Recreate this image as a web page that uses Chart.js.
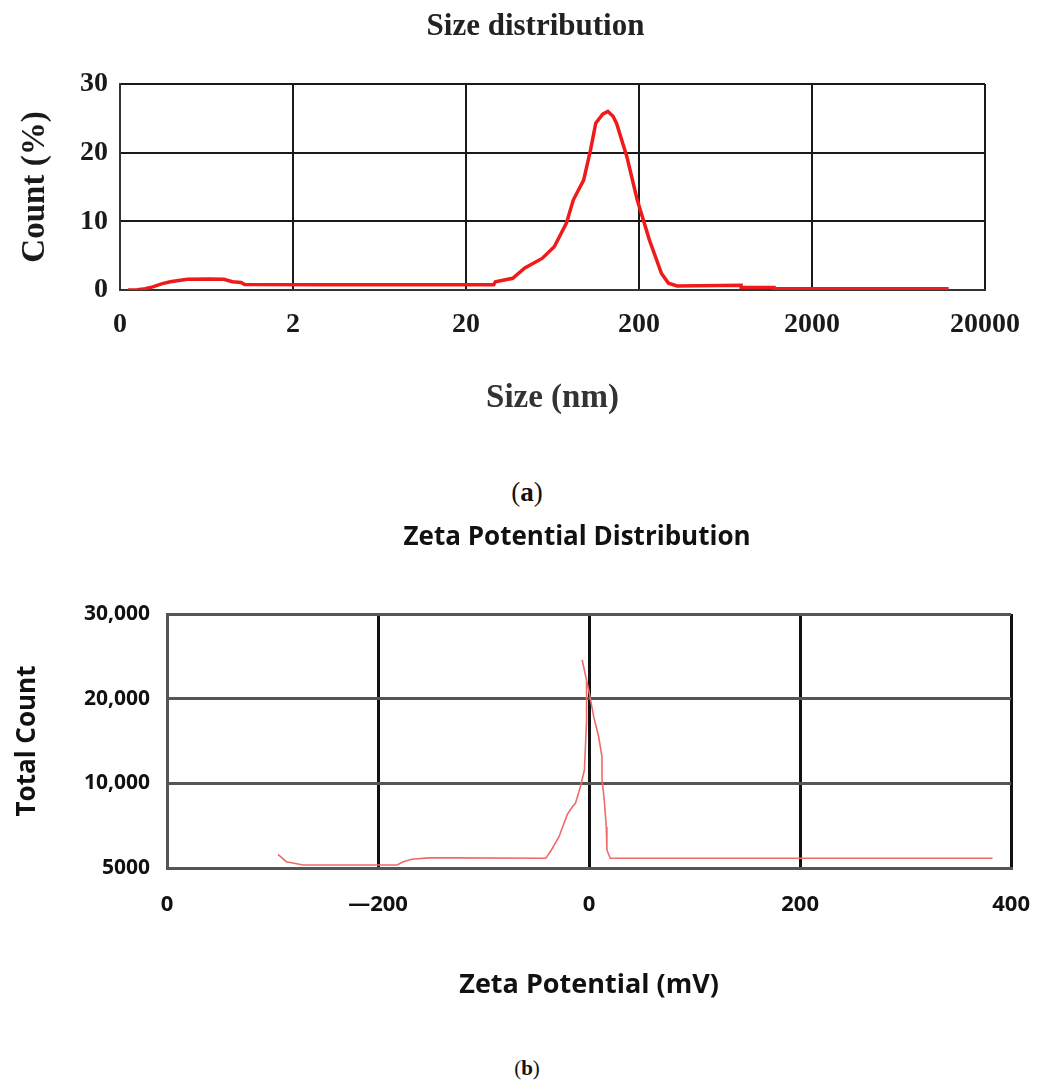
<!DOCTYPE html>
<html>
<head>
<meta charset="utf-8">
<script src="https://cdn.jsdelivr.net/npm/chart.js@4.4.1/dist/chart.umd.min.js"></script>
<style>
  html, body { margin: 0; padding: 0; background: #fff; }
  body { width: 1054px; height: 1084px; position: relative; overflow: hidden; }
  .box { position: absolute; left: 0; width: 1054px; }
  #boxA { top: 0; height: 440px; }
  #boxB { top: 500px; height: 520px; }
  .cap { position: absolute; left: 0; width: 1054px; text-align: center; font-family: "Liberation Serif", serif; color: #111; }
  #capA { top: 477px; font-size: 27px; }
  #capB { top: 1056px; font-size: 21px; }
</style>
</head>
<body>
<div class="box" id="boxA"><canvas id="chartA" width="1054" height="440"></canvas></div>
<div class="cap" id="capA">(<b>a</b>)</div>
<div class="box" id="boxB"><canvas id="chartB" width="1054" height="520"></canvas></div>
<div class="cap" id="capB">(<b>b</b>)</div>
<script>
// ---- Panel (a): size distribution ----
const sizeTickLabels = ['0', '2', '20', '200', '2000', '20000'];
// position along the evenly spaced (log-decade) size axis, 0 = first tick label
const sizeDecade = [0.046, 0.10, 0.145, 0.19, 0.24, 0.29, 0.39, 0.52, 0.60, 0.65, 0.70, 0.72,
  1.2, 2.0, 2.16, 2.17, 2.27, 2.34, 2.44, 2.51, 2.58, 2.62, 2.68, 2.72, 2.75, 2.79, 2.82, 2.85,
  2.87, 2.93, 2.99, 3.06, 3.13, 3.17, 3.22, 3.59, 3.59, 3.78, 3.78, 4.79];
const sizeCount = [0, 0.05, 0.2, 0.45, 0.9, 1.2, 1.55, 1.6, 1.55, 1.2, 1.1, 0.8,
  0.75, 0.75, 0.75, 1.2, 1.7, 3.2, 4.6, 6.3, 9.7, 13.1, 16.0, 20.4, 24.3, 25.6, 26.0, 25.3,
  24.3, 19.4, 13.1, 7.3, 2.4, 1.0, 0.6, 0.7, 0.35, 0.35, 0.2, 0.2];
const countTicks = [0, 10, 20, 30];

// ---- Panel (b): zeta potential distribution ----
const zetaTickLabels = ['0', '\u2014200', '0', '200', '400'];
const totalCountTickLabels = ['5000', '10,000', '20,000', '30,000'];
const zetaMv = [-294.8, -287, -271, -182, -176, -168, -152, -133, -41, -35.7, -28.5, -20.7,
  -15.8, -12.9, -8.2, -4.4, -2.5, -2.4, -6.6, -0.3, 4.4, 9.1, 12.2, 12.3, 14.4, 16.3, 16.9, 20.0, 382.4];
const zetaCount = [1617, 744, 354, 354, 744, 1027, 1200, 1200, 1150, 2125, 3700, 6300,
  7240, 7640, 9600, 11570, 17000, 22200, 24600, 21000, 17870, 15500, 13150, 10400, 8030, 4880, 2130, 1150, 1150];

const serif = '"Liberation Serif", "Times New Roman", serif';
const sans = '"Open Sans", "Noto Sans", sans-serif';

// the figure titles sit slightly left of the plot centre
const titleShift = {
  id: 'titleShift',
  afterLayout(chart, args, opts) {
    const t = chart.titleBlock;
    if (t) { t.left += opts.dx; t.right += opts.dx; }
  }
};

new Chart(document.getElementById('chartA'), {
  type: 'scatter',
  plugins: [titleShift],
  data: {
    datasets: [{
      data: sizeDecade.map((x, i) => ({ x, y: sizeCount[i] })),
      showLine: true,
      borderColor: '#f01a1a',
      borderWidth: 3.5,
      pointRadius: 0,
      tension: 0
    }]
  },
  options: {
    responsive: false,
    animation: false,
    layout: { padding: { left: 0, right: 69, top: 0, bottom: 0 } },
    plugins: {
      legend: { display: false },
      tooltip: { enabled: false },
      titleShift: { dx: -17 },
      title: {
        display: true,
        fullSize: false,
        text: 'Size distribution',
        color: '#222',
        font: { family: serif, size: 31, weight: 'bold' },
        padding: { top: 8.4, bottom: 38.4 }
      }
    },
    scales: {
      x: {
        type: 'linear',
        min: 0, max: 5,
        afterFit: s => { s.height = 150; },
        ticks: {
          stepSize: 1,
          padding: 18,
          color: '#1a1a1a',
          font: { family: serif, size: 28, weight: 'bold' },
          callback: (v, i) => sizeTickLabels[i]
        },
        grid: { color: '#1a1a1a', lineWidth: 2, drawTicks: false },
        border: { color: '#333', width: 2 },
        title: {
          display: true,
          text: 'Size (nm)',
          color: '#333',
          font: { family: serif, size: 33, weight: 'bold' },
          padding: { top: 0, bottom: 22.2 }
        }
      },
      y: {
        type: 'linear',
        min: 0, max: 30,
        afterFit: s => { s.width = 120; },
        afterBuildTicks: s => { s.ticks = countTicks.map(v => ({ value: v })); },
        ticks: {
          padding: 12,
          color: '#1a1a1a',
          font: { family: serif, size: 28, weight: 'bold' }
        },
        grid: { color: '#1a1a1a', lineWidth: 2, drawTicks: false },
        border: { color: '#333', width: 2 },
        title: {
          display: true,
          text: 'Count (%)',
          color: '#1a1a1a',
          font: { family: serif, size: 33, weight: 'bold' },
          padding: { top: 15.2, bottom: 0 }
        }
      }
    }
  }
});

new Chart(document.getElementById('chartB'), {
  type: 'scatter',
  plugins: [titleShift],
  data: {
    datasets: [{
      data: zetaMv.map((x, i) => ({ x, y: zetaCount[i] })),
      showLine: true,
      borderColor: '#f06a6a',
      borderWidth: 1.6,
      pointRadius: 0,
      tension: 0
    }]
  },
  options: {
    responsive: false,
    animation: false,
    layout: { padding: { left: 0, right: 36, top: 0, bottom: 0 } },
    plugins: {
      legend: { display: false },
      tooltip: { enabled: false },
      titleShift: { dx: -12 },
      title: {
        display: true,
        fullSize: false,
        text: 'Zeta Potential Distribution',
        color: '#111',
        font: { family: sans, size: 26, weight: 'bold' },
        padding: { top: 22.4, bottom: 60.4 }
      }
    },
    scales: {
      x: {
        type: 'linear',
        min: -400, max: 400,
        afterFit: s => { s.height = 152; },
        ticks: {
          stepSize: 200,
          padding: 24,
          color: '#111',
          font: { family: sans, size: 22, weight: 'bold' },
          callback: (v, i) => zetaTickLabels[i]
        },
        grid: { color: '#111', lineWidth: 3, drawTicks: false },
        border: { color: '#555', width: 3 },
        title: {
          display: true,
          text: 'Zeta Potential (mV)',
          color: '#111',
          font: { family: sans, size: 27, weight: 'bold' },
          padding: { top: 0, bottom: 18.8 }
        }
      },
      y: {
        type: 'linear',
        min: 0, max: 30000,
        afterFit: s => { s.width = 167; },
        ticks: {
          stepSize: 10000,
          padding: 17,
          color: '#111',
          font: { family: sans, size: 21, weight: 'bold' },
          callback: (v, i) => totalCountTickLabels[i]
        },
        grid: { color: '#555', lineWidth: 3, drawTicks: false },
        border: { color: '#555', width: 3 },
        title: {
          display: true,
          text: 'Total Count',
          color: '#111',
          font: { family: sans, size: 26, weight: 'bold' },
          padding: { top: 12.4, bottom: 0 }
        }
      }
    }
  }
});
</script>
</body>
</html>
